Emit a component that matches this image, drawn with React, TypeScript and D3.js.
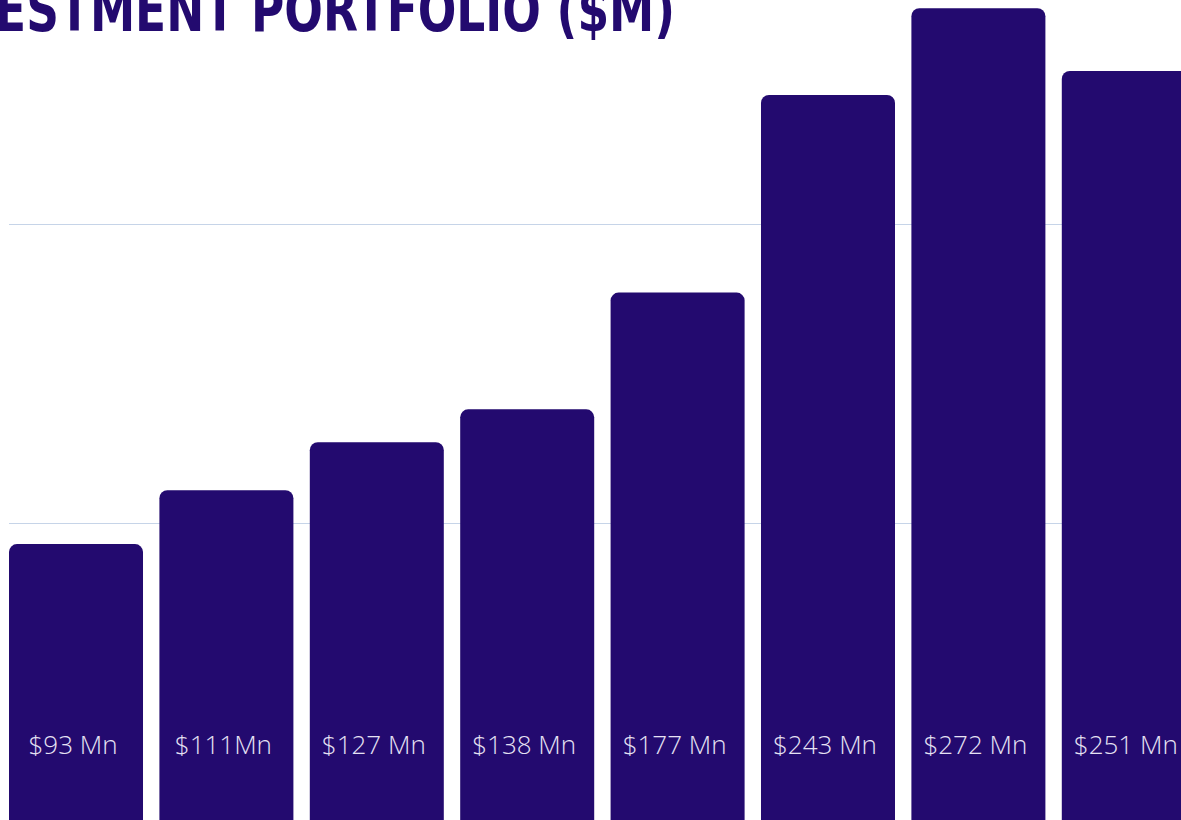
import React from "react";
import * as d3 from "d3";

const TITLE = "INVESTMENT PORTFOLIO ($M)";
const values = [93, 111, 127, 138, 177, 243, 272, 251];
const labels = ["$93 Mn", "$111Mn", "$127 Mn", "$138 Mn", "$177 Mn", "$243 Mn", "$272 Mn", "$251 Mn"];
const gridValues = [100, 200];

const W = 1181;
const H = 820;
const BAR = "#230a6f";

export default function App() {
  const x = d3
    .scaleBand<string>()
    .domain(labels)
    .range([9, 1195.8])
    .paddingInner(0.109)
    .paddingOuter(0);
  const y = d3.scaleLinear().domain([0, 300]).range([822.5, 822.5 - 300 * 2.994]);

  return (
    <div style={{ position: "absolute", left: 0, top: 0, width: W, height: H, overflow: "hidden", background: "#fff" }}>
      <svg width={W} height={H} style={{ display: "block" }}>
        <rect width={W} height={H} fill="#ffffff" />
        {gridValues.map((g) => (
          <line key={g} x1={9} x2={W} y1={Math.round(y(g)) + 0.5} y2={Math.round(y(g)) + 0.5} stroke="#c6d4e8" strokeWidth={1} />
        ))}
        {values.map((v, i) => (
          <rect
            key={labels[i]}
            x={x(labels[i])}
            y={y(v)}
            width={x.bandwidth()}
            height={y(0) - y(v) + 20}
            rx={8}
            ry={8}
            fill={BAR}
          />
        ))}
        {values.map((v, i) => (
          <text
            key={"t" + i}
            x={(x(labels[i]) as number) + x.bandwidth() / 2 - 3}
            y={754}
            textAnchor="middle"
            fontFamily="'Open Sans', sans-serif"
            fontWeight={300}
            fontSize={26}
            fill="#e6e2f4"
          >
            {labels[i]}
          </text>
        ))}
        <text
          x={-95}
          y={31}
          textLength={770}
          lengthAdjust="spacingAndGlyphs"
          fontFamily="'DejaVu Sans Condensed', 'DejaVu Sans', sans-serif"
          fontWeight={700}
          fontSize={60}
          fill={BAR}
        >
          {TITLE}
        </text>
      </svg>
    </div>
  );
}
